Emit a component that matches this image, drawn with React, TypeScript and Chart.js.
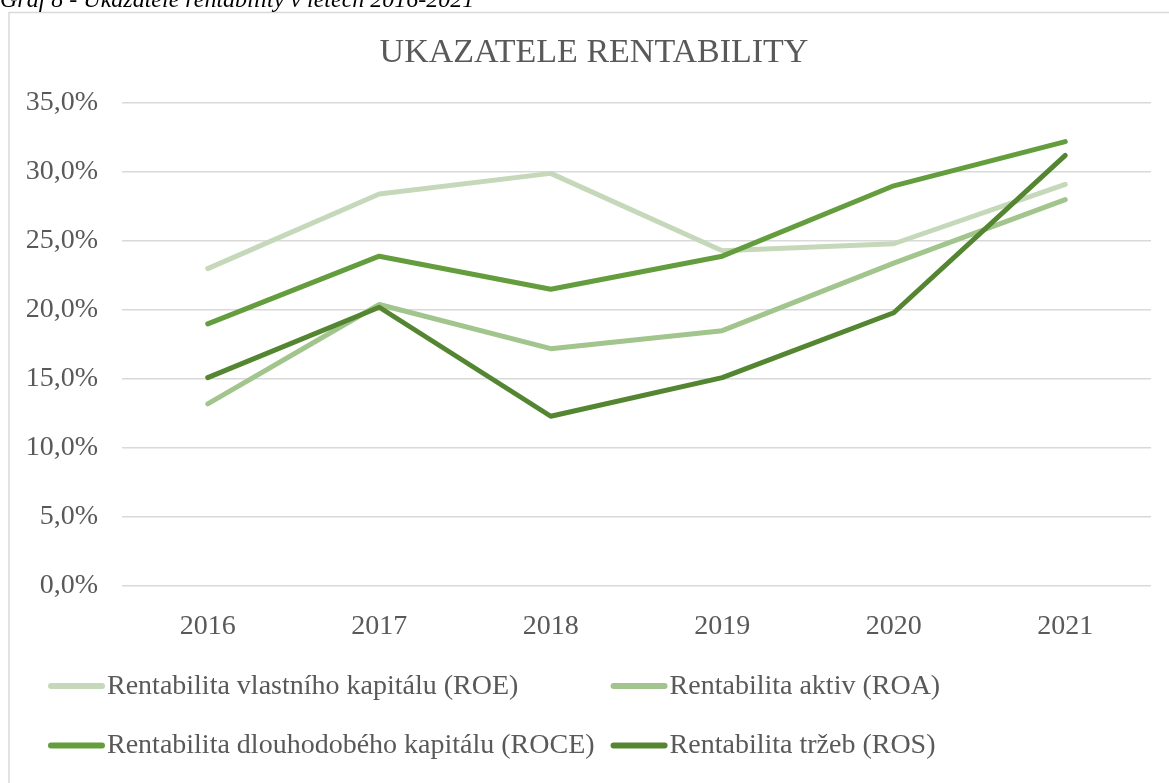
import React, { useEffect, useRef } from "react";
import { Chart, registerables } from "chart.js";

Chart.register(...registerables);

const categories = ["2016", "2017", "2018", "2019", "2020", "2021"];
const roe = [23.0, 28.4, 29.9, 24.3, 24.8, 29.1];
const roa = [13.2, 20.4, 17.2, 18.5, 23.4, 28.0];
const roce = [19.0, 23.9, 21.5, 23.9, 29.0, 32.2];
const ros = [15.1, 20.2, 12.3, 15.1, 19.8, 31.2];
const seriesLabels = [
  "Rentabilita vlastního kapitálu (ROE)",
  "Rentabilita aktiv (ROA)",
  "Rentabilita dlouhodobého kapitálu (ROCE)",
  "Rentabilita tržeb (ROS)",
];
const seriesColors = ["#C5D9BA", "#A2C58D", "#649D3D", "#548632"];
const chartTitle = "UKAZATELE RENTABILITY";
const caption = "Graf 8 - Ukazatele rentability v letech 2016-2021";

const FONT = '"Liberation Serif", "Times New Roman", serif';
const TEXT = "#595959";

const decorPlugin = {
  id: "decor",
  beforeDraw(chart: any) {
    const ctx = chart.ctx;
    ctx.save();
    ctx.fillStyle = "#ffffff";
    ctx.fillRect(0, 0, chart.width, chart.height);
    ctx.strokeStyle = "#d9d9d9";
    ctx.lineWidth = 1.5;
    ctx.strokeRect(9, 12.5, chart.width + 20, chart.height + 20);
    ctx.restore();
  },
  afterDraw(chart: any) {
    const ctx = chart.ctx;
    ctx.save();
    // caption (cut at top)
    ctx.fillStyle = "#000000";
    ctx.font = `italic 24px ${FONT}`;
    ctx.textAlign = "left";
    ctx.textBaseline = "alphabetic";
    ctx.fillText(caption, 0, 7);
    // title
    ctx.fillStyle = TEXT;
    ctx.font = `34px ${FONT}`;
    ctx.textAlign = "center";
    ctx.fillText(chartTitle, 594, 62);
    // legend
    ctx.font = `28px ${FONT}`;
    ctx.textAlign = "left";
    const ds = chart.data.datasets;
    const col1Text = 107;
    const w0 = ctx.measureText(ds[0].label).width;
    const w2 = ctx.measureText(ds[2].label).width;
    const col2Marker = col1Text + Math.max(w0, w2) + 16;
    const rows = [693.5, 753];
    ds.forEach((d: any, i: number) => {
      const row = Math.floor(i / 2);
      const col = i % 2;
      const mx = col === 0 ? 48 : col2Marker;
      const tx = col === 0 ? col1Text : col2Marker + 59;
      const base = rows[row];
      const my = base - 7.5;
      ctx.strokeStyle = d.borderColor;
      ctx.lineWidth = 6;
      ctx.lineCap = "round";
      ctx.beginPath();
      ctx.moveTo(mx + 3, my);
      ctx.lineTo(mx + 54, my);
      ctx.stroke();
      ctx.fillStyle = TEXT;
      ctx.fillText(d.label, tx, base);
    });
    ctx.restore();
  },
};

export default function App() {
  const ref = useRef<HTMLCanvasElement | null>(null);
  useEffect(() => {
    if (!ref.current) return;
    const values = [roe, roa, roce, ros];
    const chart = new Chart(ref.current, {
      type: "line",
      data: {
        labels: categories,
        datasets: values.map((v, i) => ({
          label: seriesLabels[i],
          data: v,
          borderColor: seriesColors[i],
          backgroundColor: seriesColors[i],
          borderWidth: 5,
          pointRadius: 0,
          pointHoverRadius: 0,
          tension: 0,
          borderCapStyle: "round" as const,
          borderJoinStyle: "round" as const,
          order: 4 - i,
        })),
      },
      options: {
        responsive: false,
        animation: false,
        events: [],
        layout: { padding: { left: 0, right: 18, top: 103, bottom: 147 } },
        plugins: {
          legend: { display: false },
          title: { display: false },
          tooltip: { enabled: false },
        },
        scales: {
          x: {
            offset: true,
            grid: { display: false },
            border: { display: false },
            ticks: {
              color: TEXT,
              font: { family: FONT, size: 28 },
              padding: 16,
              maxRotation: 0,
            },
            afterFit(scale: any) {
              scale.height = 50;
            },
          },
          y: {
            min: 0,
            max: 35,
            border: { display: false },
            grid: { color: "#d9d9d9", lineWidth: 1.5, drawTicks: false },
            ticks: {
              stepSize: 5,
              color: TEXT,
              font: { family: FONT, size: 28 },
              padding: 24,
              callback: (v: any) => Number(v).toFixed(1).replace(".", ",") + "%",
            },
            afterFit(scale: any) {
              scale.width = 122;
            },
          },
        },
      },
      plugins: [decorPlugin],
    });
    return () => chart.destroy();
  }, []);
  return (
    <div style={{ position: "absolute", left: 0, top: 0, width: 1169, height: 783 }}>
      <canvas ref={ref} width={1169} height={783} />
    </div>
  );
}
